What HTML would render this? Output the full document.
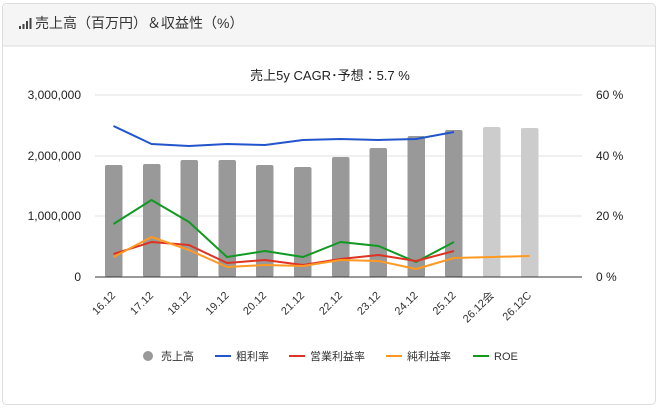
<!DOCTYPE html>
<html><head><meta charset="utf-8">
<style>
html,body{margin:0;padding:0;background:#fff;}
body{width:660px;height:408px;overflow:hidden;font-family:"Liberation Sans","Noto Sans CJK JP",sans-serif;}
</style></head><body>
<svg width="660" height="408" xmlns="http://www.w3.org/2000/svg" font-family="Liberation Sans, Noto Sans CJK JP, sans-serif">
<rect x="2.5" y="3.5" width="653" height="401" rx="4" fill="#fff" stroke="#ddd"/>
<path d="M3 46 V8 a4 4 0 0 1 4-4 H651 a4 4 0 0 1 4 4 V46 Z" fill="#f5f5f5"/>
<line x1="3" y1="46" x2="655" y2="46" stroke="#ddd"/>
<g fill="#444">
<rect x="19" y="26" width="2" height="3"/><rect x="22.5" y="24" width="2" height="5"/><rect x="26" y="21" width="2" height="8"/><rect x="29.5" y="18" width="2" height="11"/>
</g>
<text x="35" y="28" font-size="14" fill="#333">売上高（百万円）＆収益性（%）</text>
<text x="330" y="80" font-size="13" fill="#222" text-anchor="middle">売上5y CAGR･予想：5.7 %</text>
<g stroke="#e0e0e0"><line x1="95" y1="95" x2="582" y2="95"/><line x1="95" y1="156" x2="582" y2="156"/><line x1="95" y1="216" x2="582" y2="216"/></g>
<g font-size="12" fill="#222" text-anchor="end">
<text x="81" y="99">3,000,000</text><text x="81" y="160">2,000,000</text><text x="81" y="220">1,000,000</text><text x="81" y="281">0</text>
</g>
<g font-size="12" fill="#222">
<text x="596" y="99">60 %</text><text x="596" y="160">40 %</text><text x="596" y="220">20 %</text><text x="596" y="281">0 %</text>
</g>
<g fill="#999">
<rect x="105" y="165" width="17.5" height="112" rx="2"/>
<rect x="143" y="164" width="17.5" height="113" rx="2"/>
<rect x="180.5" y="160" width="17.5" height="117" rx="2"/>
<rect x="218.5" y="160" width="17.5" height="117" rx="2"/>
<rect x="256" y="165" width="17.5" height="112" rx="2"/>
<rect x="294" y="167" width="17.5" height="110" rx="2"/>
<rect x="332" y="157" width="17.5" height="120" rx="2"/>
<rect x="369.5" y="148" width="17.5" height="129" rx="2"/>
<rect x="407.5" y="136" width="17.5" height="141" rx="2"/>
<rect x="445" y="130" width="17.5" height="147" rx="2"/>
</g>
<g fill="#ccc">
<rect x="483" y="127" width="17.5" height="150" rx="2"/>
<rect x="521" y="128" width="17.5" height="149" rx="2"/>
</g>
<line x1="95" y1="277" x2="582" y2="277" stroke="#333"/>
<g fill="none" stroke-width="2" stroke-linejoin="round">
<polyline stroke="#2255cc" points="113.5,126 151.5,144 189,146 227,144 265,145 303,140 340.5,139 378.5,140 416,139 454,132"/>
<polyline stroke="#119922" points="113.5,224 151.5,200 189,222 227,257 265,251 303,257 340.5,242 378.5,246 416,262 454,242"/>
<polyline stroke="#dd3322" points="113.5,254 151.5,242 189,245 227,263 265,260 303,265 340.5,259 378.5,255 416,261 454,251"/>
<polyline stroke="#ff9922" points="113.5,257 151.5,237 189,250 227,267 265,265 303,266 340.5,260 378.5,261 416,269 454,258 492,257 529.5,256"/>
</g>
<g font-size="11" fill="#333" text-anchor="end">
<text transform="translate(116,296) rotate(-45)">16.12</text>
<text transform="translate(154,296) rotate(-45)">17.12</text>
<text transform="translate(191.5,296) rotate(-45)">18.12</text>
<text transform="translate(229.5,296) rotate(-45)">19.12</text>
<text transform="translate(267,296) rotate(-45)">20.12</text>
<text transform="translate(305,296) rotate(-45)">21.12</text>
<text transform="translate(343,296) rotate(-45)">22.12</text>
<text transform="translate(381,296) rotate(-45)">23.12</text>
<text transform="translate(418.5,296) rotate(-45)">24.12</text>
<text transform="translate(456.5,296) rotate(-45)">25.12</text>
<text transform="translate(494.5,296) rotate(-45)">26.12会</text>
<text transform="translate(532,296) rotate(-45)">26.12C</text>
</g>
<g font-size="11" fill="#333">
<circle cx="148" cy="356" r="5" fill="#999"/><text x="161" y="360">売上高</text>
<line x1="215" y1="356" x2="231" y2="356" stroke="#2255cc" stroke-width="2"/><text x="236" y="360">粗利率</text>
<line x1="289" y1="356" x2="305" y2="356" stroke="#dd3322" stroke-width="2"/><text x="310" y="360">営業利益率</text>
<line x1="386" y1="356" x2="402" y2="356" stroke="#ff9922" stroke-width="2"/><text x="407" y="360">純利益率</text>
<line x1="473" y1="356" x2="489" y2="356" stroke="#119922" stroke-width="2"/><text x="494" y="360">ROE</text>
</g>
</svg>
</body></html>
